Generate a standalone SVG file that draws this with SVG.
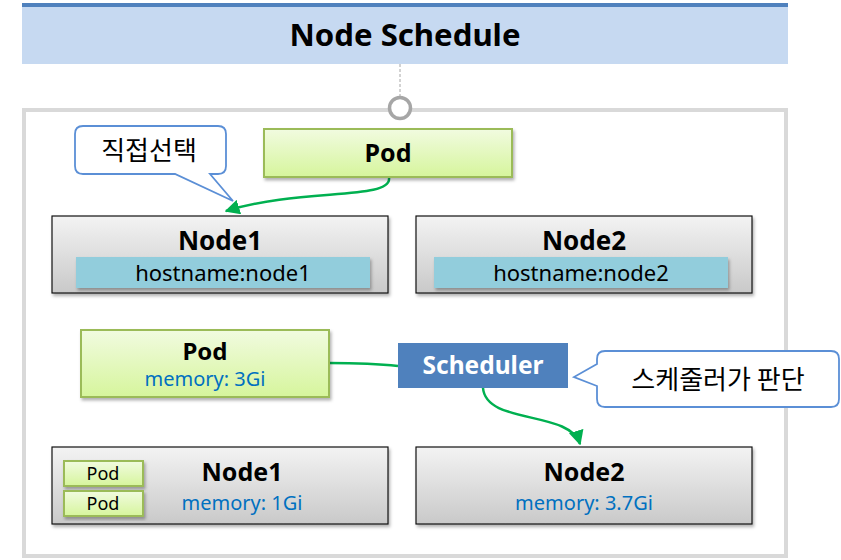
<svg xmlns="http://www.w3.org/2000/svg" width="841" height="560" viewBox="0 0 841 560">
<defs>
<linearGradient id="gNode" x1="0" y1="0" x2="0" y2="1"><stop offset="0" stop-color="#f3f3f3"/><stop offset="1" stop-color="#c9c9c9"/></linearGradient>
<linearGradient id="gPod" x1="0" y1="0" x2="0" y2="1"><stop offset="0" stop-color="#f1fbe0"/><stop offset="1" stop-color="#d6f59c"/></linearGradient>
<filter id="sh" x="-5%" y="-10%" width="112%" height="130%"><feDropShadow dx="1.5" dy="2.5" stdDeviation="1.5" flood-color="#000" flood-opacity="0.3"/></filter>
<marker id="arr" viewBox="0 0 10 10" refX="9" refY="5" markerWidth="6" markerHeight="6" orient="auto" markerUnits="strokeWidth"><path d="M0,0 L10,5 L0,10 z" fill="#00b050"/></marker>
</defs>
<style>
.node{fill:url(#gNode);stroke:#111;stroke-width:1.2}
.pod{fill:url(#gPod);stroke:#9bbb59;stroke-width:2}
.host{fill:#92cddc}
.t{font-family:"Noto Sans","Open Sans","Noto Sans CJK KR",sans-serif;text-anchor:middle;fill:#000}
.b{font-weight:bold}
.mem{fill:#0070c0;font-size:20.5px}
.call{fill:#fff;stroke:#5b8fd6;stroke-width:1.8}
.ko{font-family:"Noto Sans CJK KR",sans-serif;text-anchor:middle;fill:#000;font-size:26px}
.con{fill:none;stroke:#00b050;stroke-width:2.5}
</style>
<g id="header">
<rect x="22" y="3" width="766" height="61" fill="#c6d9f1"/>
<rect x="22" y="3" width="766" height="4" fill="#4f81bd"/>
<text class="t b" x="405" y="46" font-size="31" textLength="231" lengthAdjust="spacingAndGlyphs">Node Schedule</text>
</g>
<g id="frame">
<rect x="24" y="110" width="762" height="446" fill="#fff" stroke="#d9d9d9" stroke-width="4"/>
</g>
<g id="connectors">
<line x1="400" y1="64" x2="400" y2="97" stroke="#a6a6a6" stroke-width="1" stroke-dasharray="3,2"/>
<path class="con" d="M389,178 C392,200 300,188 226,211" marker-end="url(#arr)"/>
<path class="con" d="M329,363 C360,363 380,364 398,366"/>
<path class="con" d="M483,388 C486,425 570,410 580,444" marker-end="url(#arr)"/>
</g>
<g id="anchor">
<circle cx="400" cy="108" r="10.5" fill="#fff" stroke="#a6a6a6" stroke-width="3.5"/>
</g>
<g id="callout1">
<path class="call" d="M83,126 H218 Q226,126 226,134 V166 Q226,174 218,174 H210 L233,201 L175,174 H83 Q75,174 75,166 V134 Q75,126 83,126 Z"/>
<text class="ko" x="149" y="160">직접선택</text>
</g>
<g id="pod-top">
<rect class="pod" x="264" y="129" width="248" height="48" filter="url(#sh)"/>
<text class="t b" x="388" y="162" font-size="25">Pod</text>
</g>
<g id="node1-top">
<rect class="node" x="52" y="216" width="336" height="77" filter="url(#sh)"/>
<text class="t b" x="220" y="250" font-size="26">Node1</text>
<rect class="host" x="76" y="257" width="294" height="31" filter="url(#sh)"/>
<text class="t" x="223" y="281" font-size="22">hostname:node1</text>
</g>
<g id="node2-top">
<rect class="node" x="416" y="216" width="336" height="77" filter="url(#sh)"/>
<text class="t b" x="584" y="250" font-size="26">Node2</text>
<rect class="host" x="434" y="257" width="294" height="31" filter="url(#sh)"/>
<text class="t" x="581" y="281" font-size="22">hostname:node2</text>
</g>
<g id="pod-mid">
<rect class="pod" x="81" y="330" width="248" height="67" filter="url(#sh)"/>
<text class="t b" x="205" y="360" font-size="24">Pod</text>
<text class="t mem" x="205" y="386" style="font-size:20px">memory: 3Gi</text>
</g>
<g id="scheduler">
<rect x="398" y="343" width="170" height="45" fill="#4f81bd"/>
<text class="t b" x="483" y="374" font-size="24.5" style="fill:#fff">Scheduler</text>
</g>
<g id="callout2">
<path class="call" d="M605,351 H831 Q839,351 839,359 V399 Q839,407 831,407 H605 Q597,407 597,399 V386 L574,377 L597,364 V359 Q597,351 605,351 Z"/>
<text class="ko" x="718" y="389">스케줄러가 판단</text>
</g>
<g id="node1-bottom">
<rect class="node" x="52" y="447" width="336" height="77" filter="url(#sh)"/>
<text class="t b" x="242" y="481" font-size="25">Node1</text>
<text class="t mem" x="242" y="510" style="font-size:20px">memory: 1Gi</text>
<g id="pod-s1"><rect class="pod" x="64" y="461" width="79" height="25" filter="url(#sh)"/><text class="t" x="103" y="480" font-size="18">Pod</text></g>
<g id="pod-s2"><rect class="pod" x="64" y="491" width="79" height="25" filter="url(#sh)"/><text class="t" x="103" y="510" font-size="18">Pod</text></g>
</g>
<g id="node2-bottom">
<rect class="node" x="416" y="447" width="336" height="77" filter="url(#sh)"/>
<text class="t b" x="584" y="481" font-size="25">Node2</text>
<text class="t mem" x="584" y="510" style="font-size:20px">memory: 3.7Gi</text>
</g>
</svg>
